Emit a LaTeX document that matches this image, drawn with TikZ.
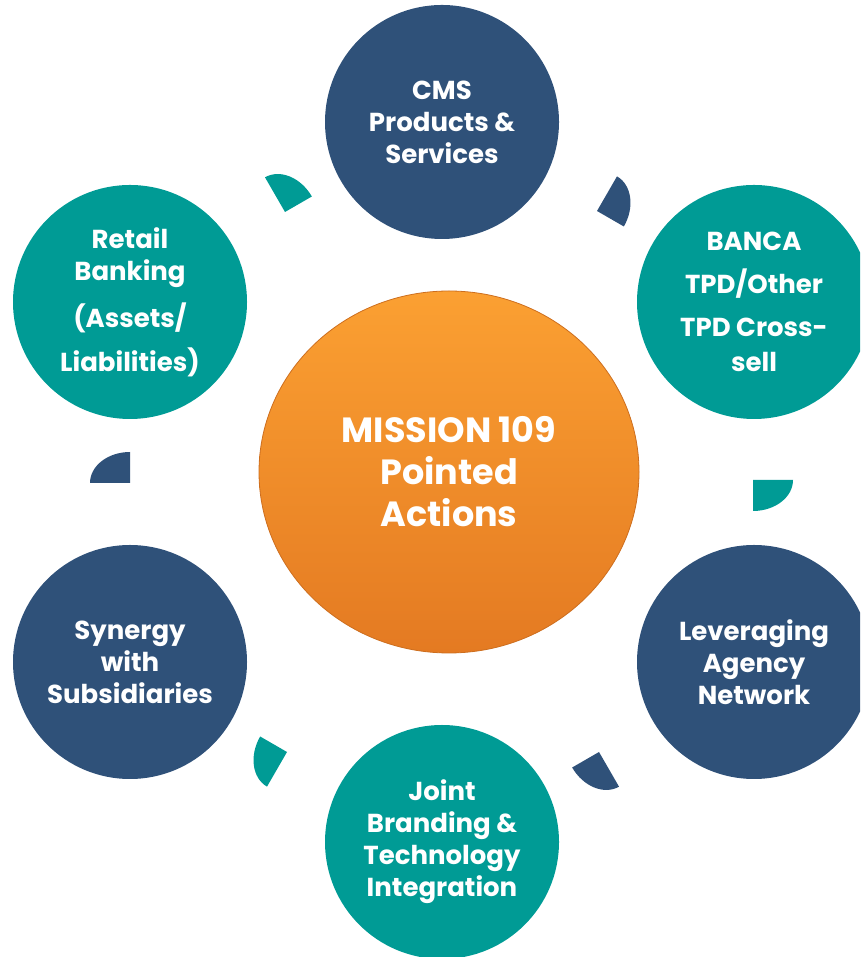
\documentclass[tikz,border=0pt]{standalone}
\usepackage{fontspec}
\setmainfont{Poppins}
\usepackage{tikz}
\usetikzlibrary{shapes.geometric}
\definecolor{spokeblue}{RGB}{47, 81, 121}
\definecolor{spoketeal}{RGB}{0, 155, 149}
\definecolor{hubtop}{RGB}{251, 160, 50}
\definecolor{hubbottom}{RGB}{228, 122, 34}
\definecolor{hubedge}{RGB}{205, 110, 30}

\begin{document}
\begin{tikzpicture}[x=1pt, y=1pt,
            spoke/.style={circle, minimum size=234pt, inner sep=0pt, text=white,
                          align=center, font=\bfseries\fontsize{26}{32}\selectfont},
            hub/.style={ellipse, minimum width=380pt, minimum height=362pt, inner sep=0pt,
                        top color=hubtop, bottom color=hubbottom, draw=hubedge, line width=0.8pt,
                        text=white, align=center, font=\bfseries\fontsize{35}{42}\selectfont}
          ]
          \useasboundingbox (0,0) rectangle (860,957);
          \clip (0,0) rectangle (860,957);
          % cycle pieces between the spokes
          \foreach \cx/\cy/\rot/\col in {130/474/0/spokeblue, 285/745/-60/spoketeal,
                                          597/746/-120/spokeblue, 753/477/-180/spoketeal,
                                          599/205/-240/spokeblue, 287/205/-300/spoketeal}
            \fill[\col, shift={(\cx,\cy)}, rotate=\rot]
              (0,0) -- (-40,0) arc[start angle=180, end angle=90, x radius=40, y radius=31] -- cycle;
          \node[hub] (mission) at (449,485) {MISSION 109\\Pointed\\Actions};
          \node[spoke, fill=spokeblue] (cms) at (442,835) {CMS\\Products \&\\Services};
          \node[spoke, fill=spoketeal] (banca) at (754,655)
            {BANCA\\[11pt]TPD/Other\\[11pt]TPD Cross-\\[3pt]sell};
          \node[spoke, fill=spokeblue] (agency) at (754,295) {Leveraging\\Agency\\Network};
          \node[spoke, fill=spoketeal] (joint) at (442,115)
            {Joint\\Branding \&\\Technology\\Integration};
          \node[spoke, fill=spokeblue] (synergy) at (130,295) {Synergy\\with\\Subsidiaries};
          \node[spoke, fill=spoketeal] (retail) at (130,655)
            {Retail\\Banking\\[15pt](Assets/\\[12pt]Liabilities)};
        \end{tikzpicture}
\end{document}
